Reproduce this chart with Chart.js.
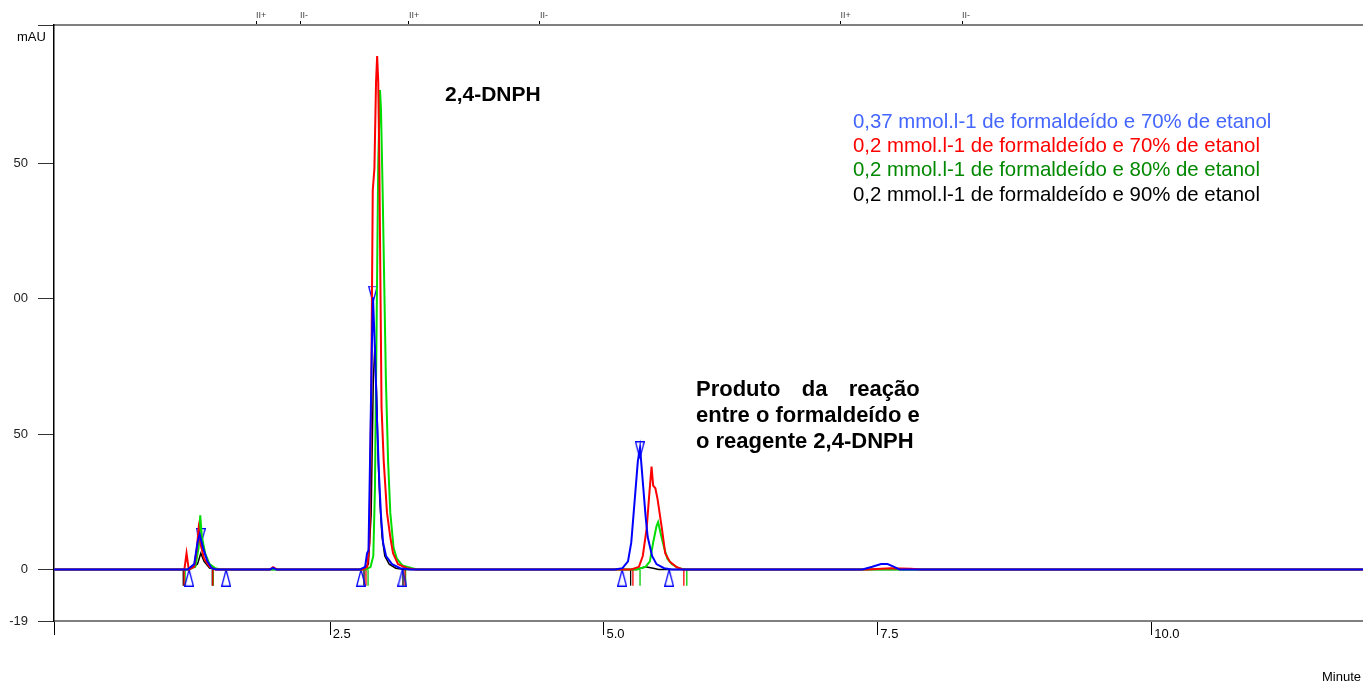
<!DOCTYPE html>
<html>
<head>
<meta charset="utf-8">
<script src="https://cdn.jsdelivr.net/npm/chart.js@4.4.1/dist/chart.umd.min.js"></script>
<style>
html, body { margin: 0; padding: 0; background: #fff; overflow: hidden; }
#wrap { width: 1363px; height: 682px; position: relative; }
</style>
</head>
<body>
<div id="wrap"><canvas id="graph_1"></canvas></div>
<script>
// series names (legend) and colours
var seriesNames = [
    '0,37 mmol.l-1 de formaldeído e 70% de etanol',
    '0,2 mmol.l-1 de formaldeído e 70% de etanol',
    '0,2 mmol.l-1 de formaldeído e 80% de etanol',
    '0,2 mmol.l-1 de formaldeído e 90% de etanol'
];
var traceColors = ['#0000ff', '#ff0000', '#00dd00', '#000000'];
var legendColors = ['#4466ff', '#ff0000', '#008800', '#000000'];

// chromatograms: [minute, mAU]
var blueTrace = [[-0.02,0],[1.20,0],[1.26,2],[1.29,10],[1.31,13],[1.34,8],[1.38,3],[1.42,0.5],[1.46,0],
    [1.95,0],[1.98,0.6],[2.01,0],[2.77,0],[2.82,1],[2.838,6],[2.851,7],[2.865,40],[2.883,85],[2.892,100.5],
    [2.911,80],[2.929,55],[2.947,35],[2.965,20],[2.984,10],[3.011,5],[3.066,2],[3.14,0.5],[3.23,0],
    [5.10,0],[5.17,0.5],[5.22,3],[5.25,10],[5.28,25],[5.31,40],[5.33,45],[5.36,30],[5.38,20],[5.40,12],
    [5.44,5],[5.48,2],[5.55,0.5],[5.62,0],[7.36,0],[7.45,1],[7.53,2],[7.59,2],[7.65,1],[7.70,0],[12,0]];
var redTrace = [[-0.02,0],[1.17,0],[1.19,6],[1.21,0],[1.26,1],[1.285,8],[1.30,15],[1.32,9],[1.35,4],[1.40,1],[1.45,0],
    [1.95,0],[1.98,0.9],[2.02,0],[2.80,0],[2.84,1],[2.86,10],[2.875,60],[2.89,140],[2.905,148],[2.92,180],
    [2.93,189.5],[2.94,180],[2.95,150],[2.96,105],[2.97,60],[2.99,40],[3.02,21],[3.05,12],[3.075,6],[3.12,2],
    [3.2,0.5],[3.28,0],[5.25,0],[5.32,1],[5.355,5],[5.39,15],[5.415,28],[5.435,38],[5.45,31],[5.47,30],
    [5.49,26],[5.53,15],[5.56,6],[5.60,3],[5.66,1],[5.72,0],[7.40,0],[7.62,0.5],[7.80,0.3],[7.90,0],[12,0]];
var greenTrace = [[-0.02,0],[1.20,0],[1.27,1],[1.30,8],[1.315,20],[1.33,12],[1.36,6],[1.40,2],[1.45,0.5],[1.50,0],
    [2.83,0],[2.87,1],[2.895,5],[2.91,30],[2.925,90],[2.94,150],[2.956,177],[2.965,170],[2.98,140],[2.995,105],
    [3.01,70],[3.03,40],[3.05,21],[3.08,8],[3.11,4],[3.16,1.5],[3.25,0.5],[3.30,0],[5.30,0],[5.38,1],[5.42,3],
    [5.45,10],[5.48,16],[5.495,17.5],[5.52,13],[5.55,8],[5.58,4],[5.62,2],[5.68,0.5],[5.75,0],[12,0]];
var blackTrace = [[-0.02,0],[1.22,0],[1.29,2],[1.32,6],[1.35,3],[1.40,0.5],[1.46,0],[2.80,0],[2.85,2],[2.875,20],
    [2.895,70],[2.91,83],[2.925,65],[2.94,40],[2.955,25],[2.975,12],[3.0,5],[3.04,2],[3.1,0.5],[3.18,0],
    [5.30,0],[5.38,1],[5.45,0.5],[5.50,0],[12,0]];

// integration marks
var baseMarks = [1.213, 1.551, 2.783, 3.16, 5.167, 5.596];      // blue baseline triangles
var peakMarks = [[1.32, 12], [2.892, 101.5], [5.328, 44]];       // blue apex triangles
var redDrops = [1.168, 1.43, 2.828, 3.184, 5.265, 5.73];
var greenDrops = [1.177, 1.435, 2.847, 3.19, 5.33, 5.757];
var blackDrops = [1.16, 1.425, 2.81, 3.166, 5.244];
var dropLevel = -3;

// axes
var xTickValues = [2.5, 5, 7.5, 10];
var xTickLabels = ['2.5', '5.0', '7.5', '10.0'];
var yTickValues = [-19, 0, 50, 100, 150];
var yTickLabels = ['-19', '0', '50', '00', '50'];
var eventTimes = [1.825, 2.226, 3.22, 4.416, 7.16, 8.27];
var eventLabels = ['II+', 'II-', 'II+', 'II-', 'II+', 'II-'];

var productLines = ['Produto da reação', 'entre o formaldeído e', 'o reagente 2,4-DNPH'];

var FONT = "'Liberation Sans', Arial, sans-serif";

function toXY(arr) {
    return arr.map(function (p) { return { x: p[0], y: p[1] }; });
}

// tall thin triangle used by the integrator marks
var tri = document.createElement('canvas');
tri.width = 10;
tri.height = 18;
(function () {
    var c = tri.getContext('2d');
    c.strokeStyle = '#0000ff';
    c.lineWidth = 1.3;
    c.beginPath();
    c.moveTo(5, 1);
    c.lineTo(9.3, 17.3);
    c.lineTo(0.7, 17.3);
    c.closePath();
    c.stroke();
})();

function traceSet(i, arr, w) {
    return {
        label: seriesNames[i],
        data: toXY(arr),
        borderColor: traceColors[i],
        borderWidth: w,
        pointRadius: 0,
        tension: 0,
        fill: false
    };
}

function dropSet(times, color) {
    return {
        label: 'drop',
        data: times.map(function (t) { return { x: t, y: dropLevel }; }),
        showLine: false,
        pointStyle: 'line',
        rotation: 90,
        pointRadius: 8,
        pointBorderWidth: 1.3,
        pointBorderColor: color,
        pointBackgroundColor: color
    };
}

var textPlugin = {
    id: 'textPlugin',
    afterDraw: function (chart) {
        var ctx = chart.ctx;
        ctx.save();
        ctx.textBaseline = 'middle';
        ctx.textAlign = 'left';
        ctx.fillStyle = '#000';
        ctx.font = '13px ' + FONT;
        ctx.fillText('mAU', 17, 37);
        ctx.fillText('Minute', 1322, 677);

        // legend
        ctx.font = '20.4px ' + FONT;
        seriesNames.forEach(function (name, i) {
            ctx.fillStyle = legendColors[i];
            ctx.fillText(name, 853, 122 + i * 24.4);
        });

        // peak annotations
        ctx.fillStyle = '#000';
        ctx.font = 'bold 21px ' + FONT;
        ctx.fillText('2,4-DNPH', 445, 95);

        ctx.font = 'bold 22px ' + FONT;
        var x0 = 696, y0 = 390, lh = 26;
        var full = ctx.measureText(productLines[1]).width;
        var words = productLines[0].split(' ');
        var sum = 0;
        words.forEach(function (w) { sum += ctx.measureText(w).width; });
        var gap = (full - sum) / (words.length - 1);
        var xx = x0;
        words.forEach(function (w) {
            ctx.fillText(w, xx, y0);
            xx += ctx.measureText(w).width + gap;
        });
        ctx.fillText(productLines[1], x0, y0 + lh);
        ctx.fillText(productLines[2], x0, y0 + 2 * lh);
        ctx.restore();
    }
};

var ctx = document.getElementById('graph_1');

var chart = new Chart(ctx, {
    type: 'line',
    data: {
        datasets: [
            traceSet(0, blueTrace, 2),
            traceSet(1, redTrace, 2),
            traceSet(2, greenTrace, 2),
            traceSet(3, blackTrace, 1.5),
            {
                label: 'base',
                data: baseMarks.map(function (t) { return { x: t, y: dropLevel }; }),
                showLine: false,
                pointStyle: tri,
                pointRadius: 5
            },
            {
                label: 'apex',
                data: toXY(peakMarks),
                showLine: false,
                pointStyle: tri,
                rotation: 180,
                pointRadius: 5
            },
            dropSet(redDrops, '#ff0000'),
            dropSet(greenDrops, '#00cc00'),
            dropSet(blackDrops, '#000000')
        ]
    },
    options: {
        responsive: true,
        maintainAspectRatio: false,
        animation: false,
        devicePixelRatio: 1,
        layout: { padding: 0, autoPadding: false },
        events: [],
        plugins: {
            legend: { display: false },
            tooltip: { enabled: false }
        },
        scales: {
            x: {
                type: 'linear',
                position: 'bottom',
                min: -0.02,
                max: 11.93,
                afterBuildTicks: function (s) {
                    s.ticks = [{ value: -0.02 }].concat(xTickValues.map(function (v) { return { value: v }; }));
                },
                afterFit: function (s) { s.height = 61; },
                ticks: {
                    autoSkip: false,
                    maxRotation: 0,
                    align: 'start',
                    padding: -8,
                    color: '#000',
                    font: { family: FONT, size: 13 },
                    callback: function (v) {
                        var i = xTickValues.indexOf(v);
                        return i < 0 ? '' : '\u2009' + xTickLabels[i];
                    }
                },
                grid: { drawOnChartArea: false, tickLength: 14, tickColor: '#000', tickWidth: 1 },
                border: { color: '#808080', width: 2 }
            },
            x2: {
                type: 'linear',
                position: 'top',
                min: -0.02,
                max: 11.93,
                afterBuildTicks: function (s) {
                    s.ticks = eventTimes.map(function (v) { return { value: v }; });
                },
                afterFit: function (s) { s.height = 25; },
                ticks: {
                    autoSkip: false,
                    maxRotation: 0,
                    align: 'start',
                    padding: 0,
                    color: '#444',
                    font: { family: FONT, size: 9 },
                    callback: function (v) {
                        var i = eventTimes.indexOf(v);
                        return i < 0 ? '' : eventLabels[i];
                    }
                },
                grid: { drawOnChartArea: false, tickLength: 4, tickColor: '#000', tickWidth: 1 },
                border: { color: '#808080', width: 2 }
            },
            y: {
                type: 'linear',
                position: 'left',
                min: -19,
                max: 201,
                afterBuildTicks: function (s) {
                    s.ticks = yTickValues.map(function (v) { return { value: v }; }).concat([{ value: 201 }]);
                },
                afterFit: function (s) { s.width = 54; },
                ticks: {
                    autoSkip: false,
                    padding: 10,
                    color: '#222',
                    font: { family: FONT, size: 13 },
                    callback: function (v) {
                        var i = yTickValues.indexOf(v);
                        return i < 0 ? '' : yTickLabels[i];
                    }
                },
                grid: { drawOnChartArea: false, tickLength: 16, tickColor: '#333', tickWidth: 1 },
                border: { color: '#000', width: 1.5 }
            }
        }
    },
    plugins: [textPlugin]
});
</script>
</body>
</html>
